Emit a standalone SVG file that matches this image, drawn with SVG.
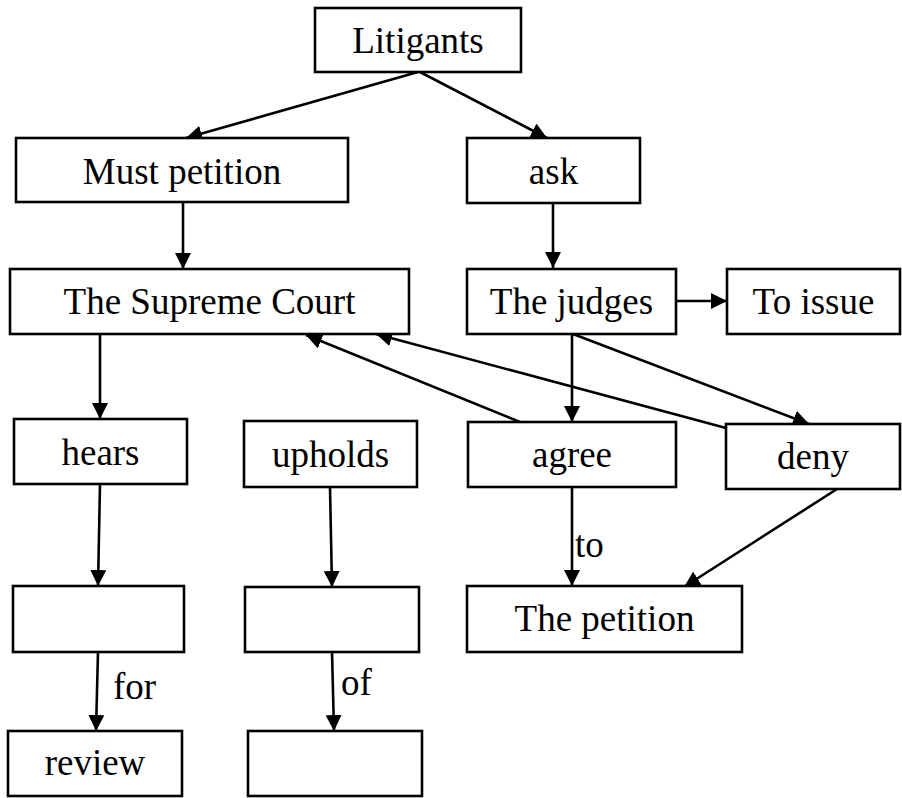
<svg xmlns="http://www.w3.org/2000/svg" width="902" height="798" viewBox="0 0 902 798">
  <style>
    .box { fill: #ffffff; stroke: #000000; stroke-width: 2.6; }
    .lbl { font-family: 'Liberation Serif', 'Times New Roman', serif; font-size: 37px; fill: #000000; text-anchor: middle; }
    .elbl { font-family: 'Liberation Serif', 'Times New Roman', serif; font-size: 37px; fill: #000000; }
    .edge { fill: none; stroke: #000000; stroke-width: 2.6; marker-end: url(#arrow); }
  </style>
  <defs>
    <!-- filled triangular arrowhead, tip placed on the line end -->
    <marker id="arrow" markerUnits="userSpaceOnUse" markerWidth="17" markerHeight="16" refX="16" refY="8" orient="auto">
      <path d="M0,0 L16,8 L0,16 Z" fill="#000000"/>
    </marker>
  </defs>
  <rect x="0" y="0" width="902" height="798" fill="#ffffff"/>

  <g id="connectors">
    <line class="edge" x1="418" y1="72" x2="186" y2="138"/>
    <line class="edge" x1="420" y1="72" x2="547" y2="138"/>
    <line class="edge" x1="183" y1="203" x2="183" y2="269"/>
    <line class="edge" x1="553" y1="203" x2="553" y2="268"/>
    <line class="edge" x1="676" y1="301" x2="727" y2="301"/>
    <line class="edge" x1="100" y1="334" x2="100" y2="419"/>
    <line class="edge" x1="572" y1="334" x2="572" y2="422"/>
    <line class="edge" x1="573" y1="334" x2="809" y2="424"/>
    <line class="edge" x1="520" y1="422" x2="306" y2="335"/>
    <line class="edge" x1="726" y1="428" x2="376" y2="334"/>
    <line class="edge" x1="100" y1="484" x2="98" y2="586"/>
    <line class="edge" x1="330" y1="487" x2="332" y2="587"/>
    <line class="edge" x1="572" y1="487" x2="572" y2="586"/>
    <line class="edge" x1="837" y1="489" x2="684" y2="587"/>
    <line class="edge" x1="98" y1="652" x2="96" y2="731"/>
    <line class="edge" x1="332" y1="652" x2="334" y2="731"/>
    <text class="elbl" x="575" y="557">to</text>
    <text class="elbl" x="113" y="699">for</text>
    <text class="elbl" x="341" y="695">of</text>
  </g>

  <g id="litigants">
    <rect class="box" x="315" y="8" width="206" height="64"/>
    <text class="lbl" x="418" y="53">Litigants</text>
  </g>
  <g id="must-petition">
    <rect class="box" x="16" y="138" width="332" height="64"/>
    <text class="lbl" x="182" y="184">Must petition</text>
  </g>
  <g id="ask">
    <rect class="box" x="467" y="138" width="173" height="65"/>
    <text class="lbl" x="553.5" y="184">ask</text>
  </g>
  <g id="supreme-court">
    <rect class="box" x="10" y="269" width="399" height="65"/>
    <text class="lbl" x="209.5" y="314">The Supreme Court</text>
  </g>
  <g id="judges">
    <rect class="box" x="467" y="269" width="209" height="65"/>
    <text class="lbl" x="571.5" y="314">The judges</text>
  </g>
  <g id="to-issue">
    <rect class="box" x="727" y="269" width="173" height="65"/>
    <text class="lbl" x="813.5" y="314">To issue</text>
  </g>
  <g id="hears">
    <rect class="box" x="14" y="419" width="173" height="65"/>
    <text class="lbl" x="100.5" y="465">hears</text>
  </g>
  <g id="upholds">
    <rect class="box" x="244" y="421" width="173" height="66"/>
    <text class="lbl" x="330.5" y="467">upholds</text>
  </g>
  <g id="agree">
    <rect class="box" x="468" y="422" width="208" height="65"/>
    <text class="lbl" x="572" y="467">agree</text>
  </g>
  <g id="deny">
    <rect class="box" x="726" y="424" width="174" height="65"/>
    <text class="lbl" x="813" y="469">deny</text>
  </g>
  <g id="blank-left">
    <rect class="box" x="13" y="586" width="171" height="66"/>
  </g>
  <g id="blank-middle">
    <rect class="box" x="245" y="587" width="174" height="65"/>
  </g>
  <g id="petition">
    <rect class="box" x="467" y="586" width="275" height="66"/>
    <text class="lbl" x="604.5" y="631">The petition</text>
  </g>
  <g id="review">
    <rect class="box" x="8" y="731" width="174" height="65"/>
    <text class="lbl" x="95" y="775">review</text>
  </g>
  <g id="blank-bottom">
    <rect class="box" x="248" y="731" width="174" height="65"/>
  </g>
</svg>
